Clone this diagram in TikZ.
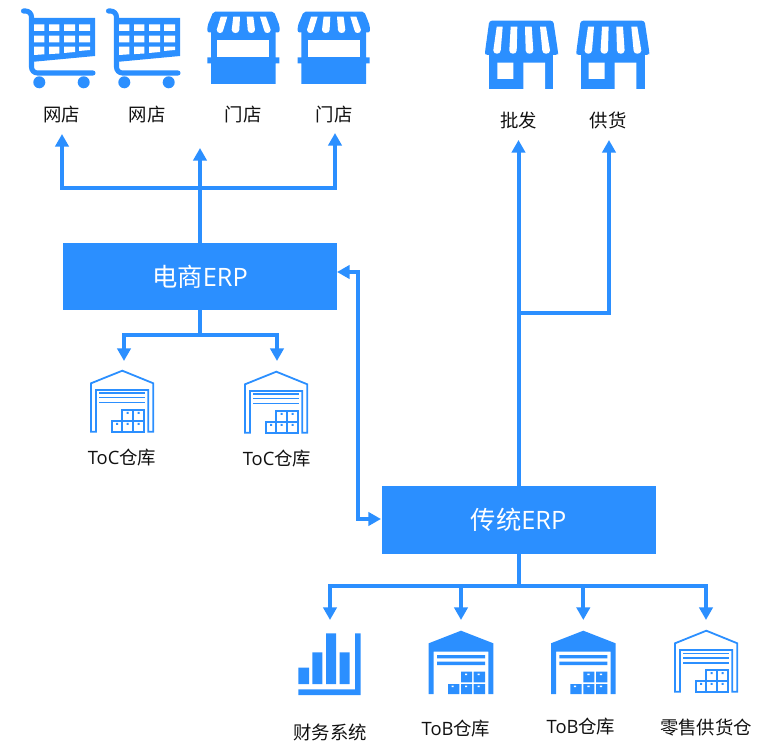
\documentclass[tikz,border=0pt]{standalone}
\usepackage{fontspec}
\setmainfont{Open Sans}
\newfontfamily\cjk{Noto Sans CJK SC}
\usetikzlibrary{arrows.meta}
\definecolor{erp}{HTML}{2B8FFF}
\definecolor{ink}{HTML}{111111}
\newcommand{\whitestrip}[6]{\fill[white] (#1,#5) -- (#2,#5) -- (#3,#6-3.5) .. controls (#3,#6+0.8) and (#4,#6+0.8) .. (#4,#6-3.5) -- cycle;}
\newcommand{\crate}[4]{\draw[erp,line width=1.35pt,fill=white] (#1,#2) rectangle (#3,#4);}
\tikzset{
  x=0.75pt,y=-0.75pt,
  wire/.style={draw=erp,line width=3pt},
  tipped/.style={wire,-{Triangle[length=9.5pt,width=10pt]}},
  bothtip/.style={wire,{Triangle[length=9.5pt,width=10pt]}-{Triangle[length=9.5pt,width=10pt]}},
  erpbox/.style={fill=erp,text=white,minimum width=205.5pt,minimum height=50.5pt,inner sep=0pt,font=\fontsize{19}{21}\selectfont},
  lbl/.style={text=ink,inner sep=0pt,font=\fontsize{13.8}{15}\selectfont},
  cart/.pic={
    \draw[erp,line width=3.8pt,line cap=round,rounded corners=4.5pt] (13.5,11) -- (21.5,11) -- (21.5,73) -- (83,73);
    \fill[erp] (21,18) -- (85,18) -- (85,56) -- (21,62) -- cycle;
    \fill[white] (24,24.3) rectangle (34.3,31) (39,24.3) rectangle (49.3,31) (54,24.3) rectangle (65,31) (69,24.3) rectangle (80,31);
    \fill[white] (24,35.7) rectangle (34.3,42.3) (39,35.7) rectangle (49.3,42.3) (54,35.7) rectangle (65,42.3) (69,35.7) rectangle (80,42.3);
    \fill[white] (24,46.7) -- (34.3,46.7) -- (34.3,54.3) -- (24,55) -- cycle (39,46.7) -- (49.3,46.7) -- (49.3,53.5) -- (39,54.1) -- cycle (54,46.7) -- (65,46.7) -- (65,52) -- (54,53) -- cycle (69,46.7) -- (80,46.7) -- (80,50) -- (69,51) -- cycle;
    \fill[erp] (29.3,82.3) circle (4.5pt) (73.7,82.3) circle (4.5pt);
  },
  stall/.pic={
    \fill[erp,rounded corners=1.5pt] (13.3,11.7) -- (74,11.7) -- (79.6,26) -- (79.6,32.5) -- (7.4,32.5) -- (7.4,26) -- cycle;
    \fill[erp] (11,31) rectangle (75.7,84) (7.3,57.3) rectangle (79.3,63.3);
    \whitestrip{20.7}{27.3}{23.3}{16.7}{16.7}{33.3}
    \whitestrip{33.3}{40}{39.3}{31.7}{16.7}{33.3}
    \whitestrip{46.7}{53.3}{55}{47.7}{16.7}{33.3}
    \whitestrip{60}{66}{70.7}{64}{16.7}{33.3}
    \fill[white] (17.3,40) rectangle (69.3,57.3);
  },
  shop/.pic={
    \fill[erp,rounded corners=2pt] (9.3,10.7) -- (73.3,10.7) -- (78,42) -- (78,45) -- (5,45) -- (5,42) -- cycle;
    \fill[erp] (9.3,42) rectangle (73.3,79.3);
    \whitestrip{16.7}{22.7}{20.7}{13.3}{16.7}{44}
    \whitestrip{30.7}{37.3}{36.7}{29.3}{16.7}{44}
    \whitestrip{45}{51.7}{53.3}{45.7}{16.7}{44}
    \whitestrip{60}{66}{70}{62.3}{16.7}{44}
    \fill[white] (17.3,52.7) rectangle (33.3,69) (43.3,52.7) rectangle (65,79.5);
  },
  hollowhouse/.pic={
    \draw[erp,line width=1.35pt,miter limit=4] (11,23.3) -- (42.3,10.7) -- (73.3,23.3) -- (73.3,71.7) -- (68.3,71.7) -- (68.3,30) -- (16,30) -- (16,71.7) -- (11,71.7) -- cycle;
    \draw[erp,line width=1.2pt] (19,33.3) -- (65,33.3) (19,37.7) -- (65,37.7) (19,42.7) -- (65,42.7);
    \crate{42.3}{50}{53.3}{60.7}\crate{53.3}{50}{64.3}{60.7}
    \crate{31.7}{60.7}{42.3}{71.7}\crate{42.3}{60.7}{53.3}{71.7}\crate{53.3}{60.7}{64.3}{71.7}
    \fill[erp] (46.6,52) rectangle +(2,2) (57.6,52) rectangle +(2,2) (36,62.8) rectangle +(2,2) (46.6,62.8) rectangle +(2,2) (57.6,62.8) rectangle +(2,2);
  },
  solidhouse/.pic={
    \fill[erp] (-32.3,23.3) -- (0,10.7) -- (32.3,23.3) -- (32.3,74) -- (27.3,74) -- (27.3,31.7) -- (-27.3,31.7) -- (-27.3,74) -- (-32.3,74) -- cycle;
    \fill[erp] (-24,35) rectangle (24,38.3) (-24,41.7) rectangle (24,45);
    \fill[erp] (0,51.7) rectangle (11,62.3) (12.7,51.7) rectangle (24,62.3) (-13,64) rectangle (-1.7,74) (0,64) rectangle (11,74) (12.7,64) rectangle (24,74);
    \fill[white] (4,53.5) rectangle +(2.2,1.6) (16.5,53.5) rectangle +(2.2,1.6) (-9.5,65.5) rectangle +(2.2,1.6) (4,65.5) rectangle +(2.2,1.6) (16.5,65.5) rectangle +(2.2,1.6);
  },
  barchart/.pic={
    \fill[erp] (8.3,47.7) rectangle (19,64) (22.3,32.3) rectangle (32.3,64) (36,13.3) rectangle (46,64) (49.7,32.3) rectangle (59.7,64);
    \fill[erp] (65,13.3) rectangle (70.7,75) (8.3,69.3) rectangle (70.7,75);
  }
}
\begin{document}
\begin{tikzpicture}
\useasboundingbox (0,0) rectangle (768,755);
% icons
\pic at (10,0) {cart};
\pic at (95,0) {cart};
\pic at (200,0) {stall};
\pic at (290.3,0) {stall};
\pic at (480,10) {shop};
\pic at (571.3,10) {shop};
\pic at (80,360) {hollowhouse};
\pic at (234,361) {hollowhouse};
\pic at (664,620) {hollowhouse};
\pic at (290,620) {barchart};
\pic at (461,620) {solidhouse};
\pic at (583.3,620) {solidhouse};
% labels
\node[lbl] (wd1) at (61.5,115) {\cjk 网店};
\node[lbl] (wd2) at (147,115) {\cjk 网店};
\node[lbl] (md1) at (243,115) {\cjk 门店};
\node[lbl] (md2) at (334,115) {\cjk 门店};
\node[lbl] (pf) at (518.5,120.5) {\cjk 批发};
\node[lbl] (gh) at (608,120.5) {\cjk 供货};
\node[lbl] (toc1) at (122,458) {ToC{\cjk 仓库}};
\node[lbl] (toc2) at (277,459) {ToC{\cjk 仓库}};
\node[lbl] (cw) at (330,732) {\cjk 财务系统};
\node[lbl] (tob1) at (456,729) {ToB{\cjk 仓库}};
\node[lbl] (tob2) at (581,727) {ToB{\cjk 仓库}};
\node[lbl] (ls) at (706,728) {\cjk 零售供货仓};
% boxes
\node[erpbox] (ds) at (200,276.5) {{\cjk 电商}ERP};
\node[erpbox] (ct) at (518.5,520) {{\cjk 传统}ERP};
% free ends
\coordinate (t1) at (62,134);
\coordinate (t2) at (200,148);
\coordinate (t3) at (335,133);
\coordinate (t4) at (518.5,140);
\coordinate (t5) at (609,140);
\coordinate (h1) at (200,188);
\coordinate (h2) at (200,335);
\coordinate (h3) at (518.5,313);
\coordinate (h4) at (518.5,586);
\coordinate (w1) at (124,361);
\coordinate (w2) at (277,361);
\coordinate (b1) at (330,620);
\coordinate (b2) at (461,620);
\coordinate (b3) at (583.3,620);
\coordinate (b4) at (706,620);
\coordinate (e1) at (337,272);
\coordinate (e2) at (381,519);
% connectors
\draw[tipped] (ds.north) -- (t2);
\draw[tipped] (h1) -| (t1);
\draw[tipped] (h1) -| (t3);
\draw[wire] (ds.south) -- (h2);
\draw[tipped] (h2) -| (w1);
\draw[tipped] (h2) -| (w2);
\draw[bothtip] (e1) -- (358,272) -- (358,519) -- (e2);
\draw[tipped] (ct.north) -- (t4);
\draw[tipped] (h3) -| (t5);
\draw[wire] (ct.south) -- (h4);
\draw[tipped] (h4) -| (b1);
\draw[tipped] (h4 -| b2) -- (b2);
\draw[tipped] (h4 -| b3) -- (b3);
\draw[tipped] (h4) -| (b4);
\end{tikzpicture}
\end{document}
